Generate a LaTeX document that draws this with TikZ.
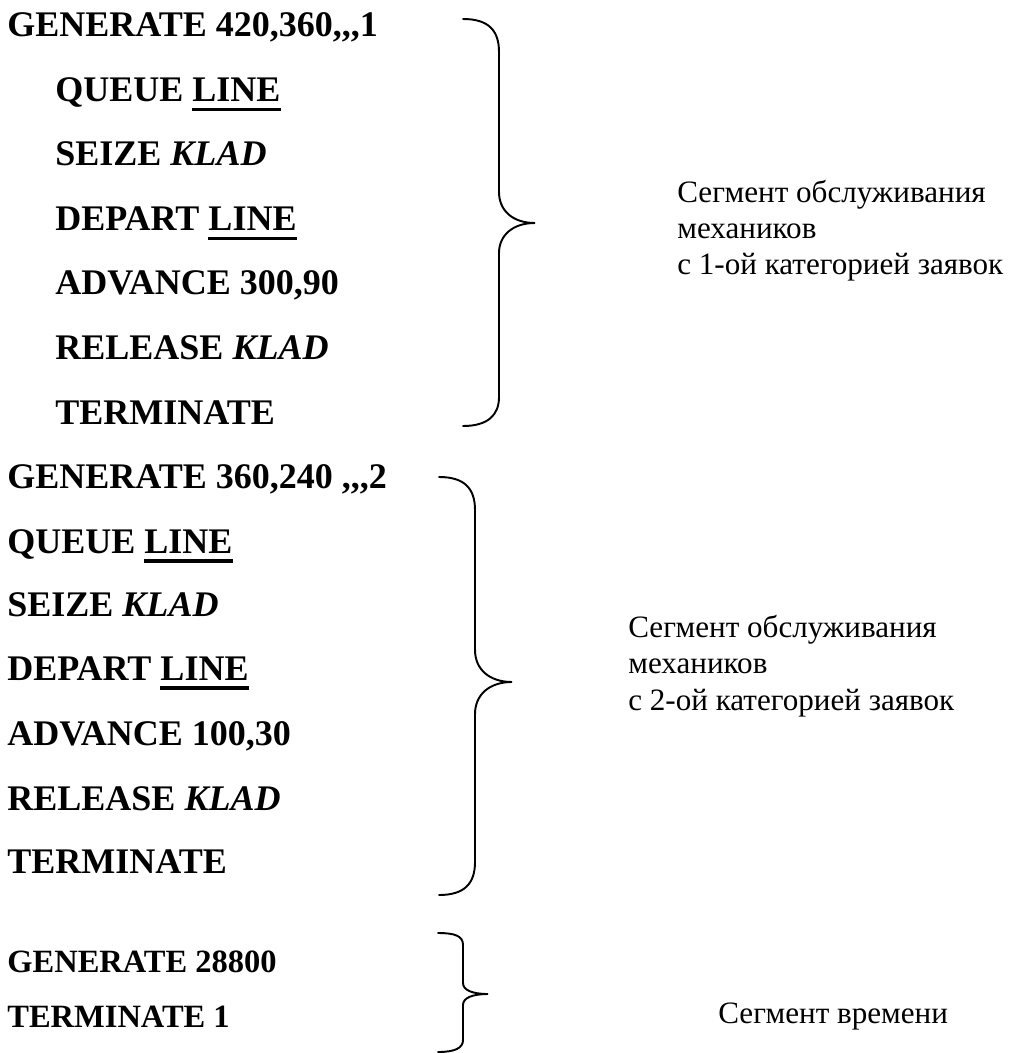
\documentclass[tikz,border=0pt]{standalone}
\usepackage{fontspec}
\setmainfont{Liberation Serif}[Ligatures=TeXOff]
\usepackage{tikz}
\usetikzlibrary{calc}

\newcommand{\lineunder}[1]{\sbox0{#1}\rlap{\rule[-0.27em]{\wd0}{0.09em}}\usebox0}

\begin{document}
\begin{tikzpicture}[x=0.02cm,y=-0.02cm,
	block/.style={anchor=base west,inner sep=0pt,font=\fontsize{20.5}{24}\selectfont\bfseries},
	smallblock/.style={block,font=\fontsize{18.5}{22}\selectfont\bfseries},
	note/.style={anchor=base west,inner sep=0pt,align=left,font=\fontsize{17.7}{20.7}\selectfont},
	brace/.style={line width=1.1pt,line cap=round}]
		\useasboundingbox (0,0) rectangle (1017,1053);
		% first segment
		\node[block] (gen1) at (7,36.7) {GENERATE 420,360,,,1};
		\node[block] (queue1) at (55,101.7) {QUEUE \lineunder{LINE}};
		\node[block] (seize1) at (55,166) {SEIZE \textit{KLAD}};
		\node[block] (depart1) at (55,230.5) {DEPART \lineunder{LINE}};
		\node[block] (adv1) at (55,295) {ADVANCE 300,90};
		\node[block] (rel1) at (55,359.5) {RELEASE \textit{KLAD}};
		\node[block] (term1) at (55,424) {TERMINATE};
		\draw[brace] (463,19) .. controls (488,19) and (499,30) .. (499,52) -- (499,192)
			.. controls (499,210) and (512,223) .. (535,223)
			.. controls (512,223) and (499,236) .. (499,253) -- (499,397)
			.. controls (499,415) and (488,426) .. (463,426);
		% base anchor sits on the last line
		\node[note] (seg1) at (677,275) {Сегмент обслуживания\\механиков\\с 1-ой категорией заявок};
		% second segment
		\node[block] (gen2) at (7,488.3) {GENERATE 360,240 ,,,2};
		\node[block] (queue2) at (7,553) {QUEUE \lineunder{LINE}};
		\node[block] (seize2) at (7,616.7) {SEIZE \textit{KLAD}};
		\node[block] (depart2) at (7,680) {DEPART \lineunder{LINE}};
		\node[block] (adv2) at (7,745) {ADVANCE 100,30};
		\node[block] (rel2) at (7,810) {RELEASE \textit{KLAD}};
		\node[block] (term2) at (7,873.3) {TERMINATE};
		\draw[brace] (439,477) .. controls (464,477) and (475,488) .. (475,510) -- (475,650)
			.. controls (475,669) and (489,682) .. (512,682)
			.. controls (489,682) and (475,695) .. (475,714) -- (475,862)
			.. controls (475,884) and (464,895) .. (439,895);
		\node[note] (seg2) at (628,710) {Сегмент обслуживания\\механиков\\с 2-ой категорией заявок};
		% time segment
		\node[smallblock] (gen3) at (7,972) {GENERATE 28800};
		\node[smallblock] (term3) at (7,1027) {TERMINATE 1};
		\draw[brace] (438,933) .. controls (455,933) and (463,936) .. (463,945) -- (463,983)
			.. controls (463,990) and (472,994) .. (488,994)
			.. controls (472,994) and (463,998) .. (463,1005) -- (463,1040)
			.. controls (463,1048) and (455,1052) .. (438,1052);
		\node[note] (seg3) at (718,1023) {Сегмент времени};
	\end{tikzpicture}
\end{document}
